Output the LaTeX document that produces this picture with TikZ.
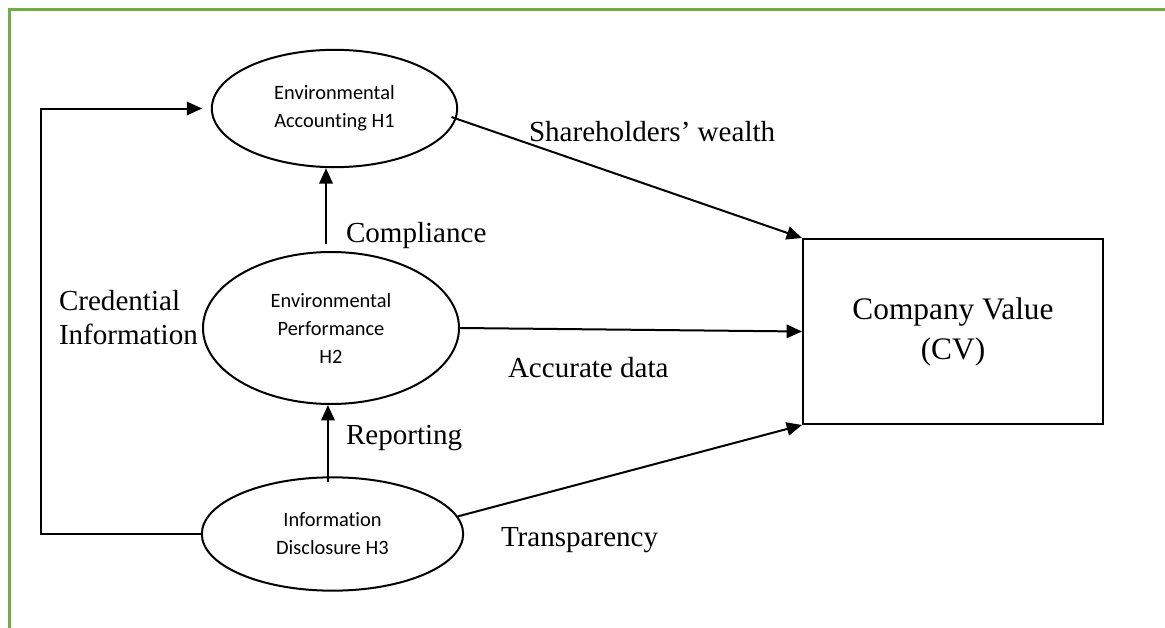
\documentclass[tikz,border=0pt]{standalone}
\usepackage{fontspec}
\setmainfont{Liberation Serif}
\newfontfamily\calibri[Ligatures=NoCommon]{Carlito}
\usetikzlibrary{arrows.meta,shapes.geometric}
\definecolor{framegreen}{HTML}{70AD47}
\begin{document}
\begin{tikzpicture}[x=0.75pt,y=-0.75pt,
  line width=1.5pt,
  hyp/.style={ellipse,draw,inner sep=0pt,align=center,
    font=\calibri\fontsize{15.3}{21}\selectfont},
  arr/.style={-{Triangle[length=11.5pt,width=10pt]}},
  lbl/.style={anchor=base west,inner sep=0pt,font=\fontsize{21.8}{25.5}\selectfont}]
\useasboundingbox (0,0) rectangle (1165,628);
% open frame along the top and left edges
\draw[framegreen,line width=2.3pt] (9.5,628) -- (9.5,9.5) -- (1165,9.5);

% hypothesis ellipses
\node[hyp,minimum width=184pt,minimum height=88pt] (e1) at (334.5,108.5)
  {Environmental\\Accounting H1};
\node[hyp,minimum width=192pt,minimum height=114pt] (e2) at (331,328)
  {Environmental\\Performance\\H2};
\node[hyp,minimum width=196pt,minimum height=85pt] (e3) at (332.5,534)
  {Information\\Disclosure H3};

% outcome box
\node[draw,inner sep=0pt,minimum width=225pt,minimum height=138.75pt,
  align=center,font=\fontsize{23.5}{30}\selectfont] (cv) at (953,331.5)
  {Company Value\\(CV)};

% connectors
\coordinate (lp) at (41,532);
\draw[arr] (e3.west) -- (e3.west -| lp) |- ([xshift=-6.5pt]e1.west);
\draw[arr] ([xshift=-3.75pt,yshift=5.25pt]e2.north) coordinate (c2) -- (c2 |- e1.south);
\draw[arr] ([xshift=-3.4pt,yshift=-4.5pt]e3.north) coordinate (c3) -- (c3 |- e2.south);
\draw[arr] ([xshift=-4pt]e1.-4) -- (cv.north west);
\draw[arr] (e2.east) -- (cv.west);
\draw[arr] (e3.8) -- (cv.south west);

% connector labels
\node[lbl] (l1) at (528,141) {Shareholders’ wealth};
\node[lbl] (l2) at (345,242) {Compliance};
\node[lbl,align=left,anchor=north west] (l3) at (58,289) {Credential\\Information};
\node[lbl] (l4) at (507,377) {Accurate data};
\node[lbl] (l5) at (345,444) {Reporting};
\node[lbl] (l6) at (500,546) {Transparency};
\end{tikzpicture}
\end{document}
